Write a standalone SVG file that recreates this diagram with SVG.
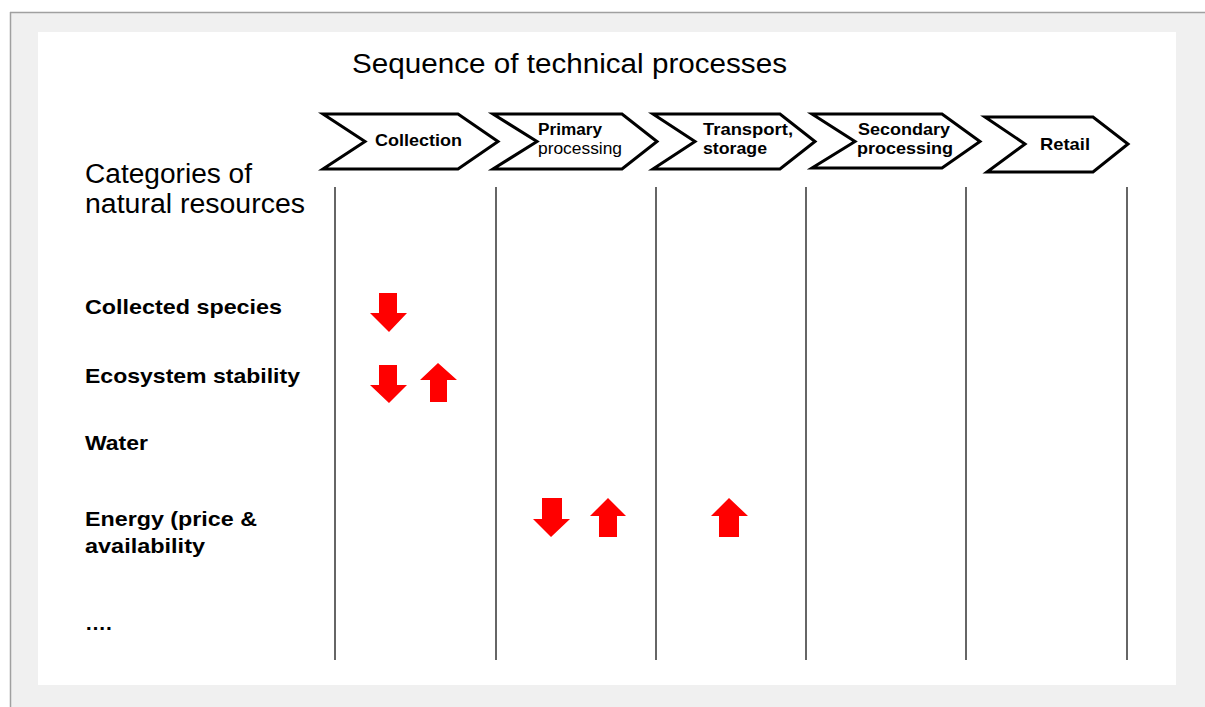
<svg xmlns="http://www.w3.org/2000/svg" width="1205" height="707" viewBox="0 0 1205 707">
<style>
.chev{fill:#fff;stroke:#000;stroke-width:3;stroke-linejoin:miter}
.ct{font-family:"Liberation Sans",Arial,sans-serif;font-size:17px;font-weight:bold;fill:#000}
.ct2{font-family:"Liberation Sans",Arial,sans-serif;font-size:16px;font-weight:bold;fill:#000}
.ctr{font-family:"Liberation Sans",Arial,sans-serif;font-size:16px;fill:#000}
.big{font-family:"Liberation Sans",Arial,sans-serif;font-size:27px;fill:#000}
.lbl{font-family:"Liberation Sans",Arial,sans-serif;font-size:21px;font-weight:bold;fill:#000}
.vl{stroke:#333;stroke-width:1.5}
.arr{fill:#ff0000}
</style>
<rect x="0" y="0" width="1205" height="707" fill="#fff"/>
<rect x="10" y="12" width="1196" height="696" fill="#f0f0f0"/>
<line x1="10.5" y1="12" x2="10.5" y2="707" stroke="#a0a0a0" stroke-width="1.5"/>
<line x1="10" y1="12.5" x2="1205" y2="12.5" stroke="#a0a0a0" stroke-width="1.5"/>
<rect x="38" y="32" width="1138" height="653" fill="#fff"/>

<text class="big" x="352" y="73" textLength="435" lengthAdjust="spacingAndGlyphs">Sequence of technical processes</text>
<text class="big" x="85" y="183" textLength="167" lengthAdjust="spacingAndGlyphs">Categories of</text>
<text class="big" x="85" y="213" textLength="220" lengthAdjust="spacingAndGlyphs">natural resources</text>

<g id="connectors">
<line class="vl" x1="335" y1="187" x2="335" y2="660"/>
<line class="vl" x1="496" y1="187" x2="496" y2="660"/>
<line class="vl" x1="656" y1="187" x2="656" y2="660"/>
<line class="vl" x1="806" y1="187" x2="806" y2="660"/>
<line class="vl" x1="966" y1="187" x2="966" y2="660"/>
<line class="vl" x1="1127" y1="187" x2="1127" y2="660"/>
</g>

<g id="collection">
<polygon class="chev" points="323,114 458,114 498,141.5 458,169 323,169 365,141.5"/>
<text class="ct" x="375" y="146" textLength="87" lengthAdjust="spacingAndGlyphs">Collection</text>
</g>
<g id="primary">
<polygon class="chev" points="493,114 622,114 657,141.5 622,169 493,169 537,141.5"/>
<text class="ct2" x="538" y="135" textLength="64" lengthAdjust="spacingAndGlyphs">Primary</text>
<text class="ctr" x="538" y="154" textLength="84" lengthAdjust="spacingAndGlyphs">processing</text>
</g>
<g id="transport">
<polygon class="chev" points="653,114 780,114 815,141.5 780,169 653,169 695,141.5"/>
<text class="ct2" x="703" y="135" textLength="90" lengthAdjust="spacingAndGlyphs">Transport,</text>
<text class="ct2" x="703" y="154" textLength="64" lengthAdjust="spacingAndGlyphs">storage</text>
</g>
<g id="secondary">
<polygon class="chev" points="812,114 942,114 980,141.5 942,168 812,168 855,141.5"/>
<text class="ct2" x="858" y="135" textLength="92" lengthAdjust="spacingAndGlyphs">Secondary</text>
<text class="ct2" x="857" y="154" textLength="96" lengthAdjust="spacingAndGlyphs">processing</text>
</g>
<g id="retail">
<polygon class="chev" points="985,117 1093,117 1128,144 1093,172 987,172 1025,144"/>
<text class="ct" x="1040" y="150" textLength="50" lengthAdjust="spacingAndGlyphs">Retail</text>
</g>

<g id="labels">
<text class="lbl" x="85" y="314" textLength="197" lengthAdjust="spacingAndGlyphs">Collected species</text>
<text class="lbl" x="85" y="383" textLength="215" lengthAdjust="spacingAndGlyphs">Ecosystem stability</text>
<text class="lbl" x="85" y="450" textLength="63" lengthAdjust="spacingAndGlyphs">Water</text>
<text class="lbl" x="85" y="526" textLength="172" lengthAdjust="spacingAndGlyphs">Energy (price &amp;</text>
<text class="lbl" x="85" y="553" textLength="120" lengthAdjust="spacingAndGlyphs">availability</text>
<text class="lbl" x="85" y="630">….</text>
</g>

<g id="arrows">
<polygon class="arr" points="379,293 397,293 397,313 407,313 389,332 370,313 379,313"/>
<polygon class="arr" points="379,365 397,365 397,385 407,385 389,403 370,385 379,385"/>
<polygon class="arr" points="438,363 457,380 447,380 447,402 430,402 430,380 420,380"/>
<polygon class="arr" points="542,498 562,498 562,519 570,519 551,537 533,519 542,519"/>
<polygon class="arr" points="608,498 626,516 617,516 617,537 599,537 599,516 590,516"/>
<polygon class="arr" points="729,498 748,516 739,516 739,537 719,537 719,516 711,516"/>
</g>
</svg>
